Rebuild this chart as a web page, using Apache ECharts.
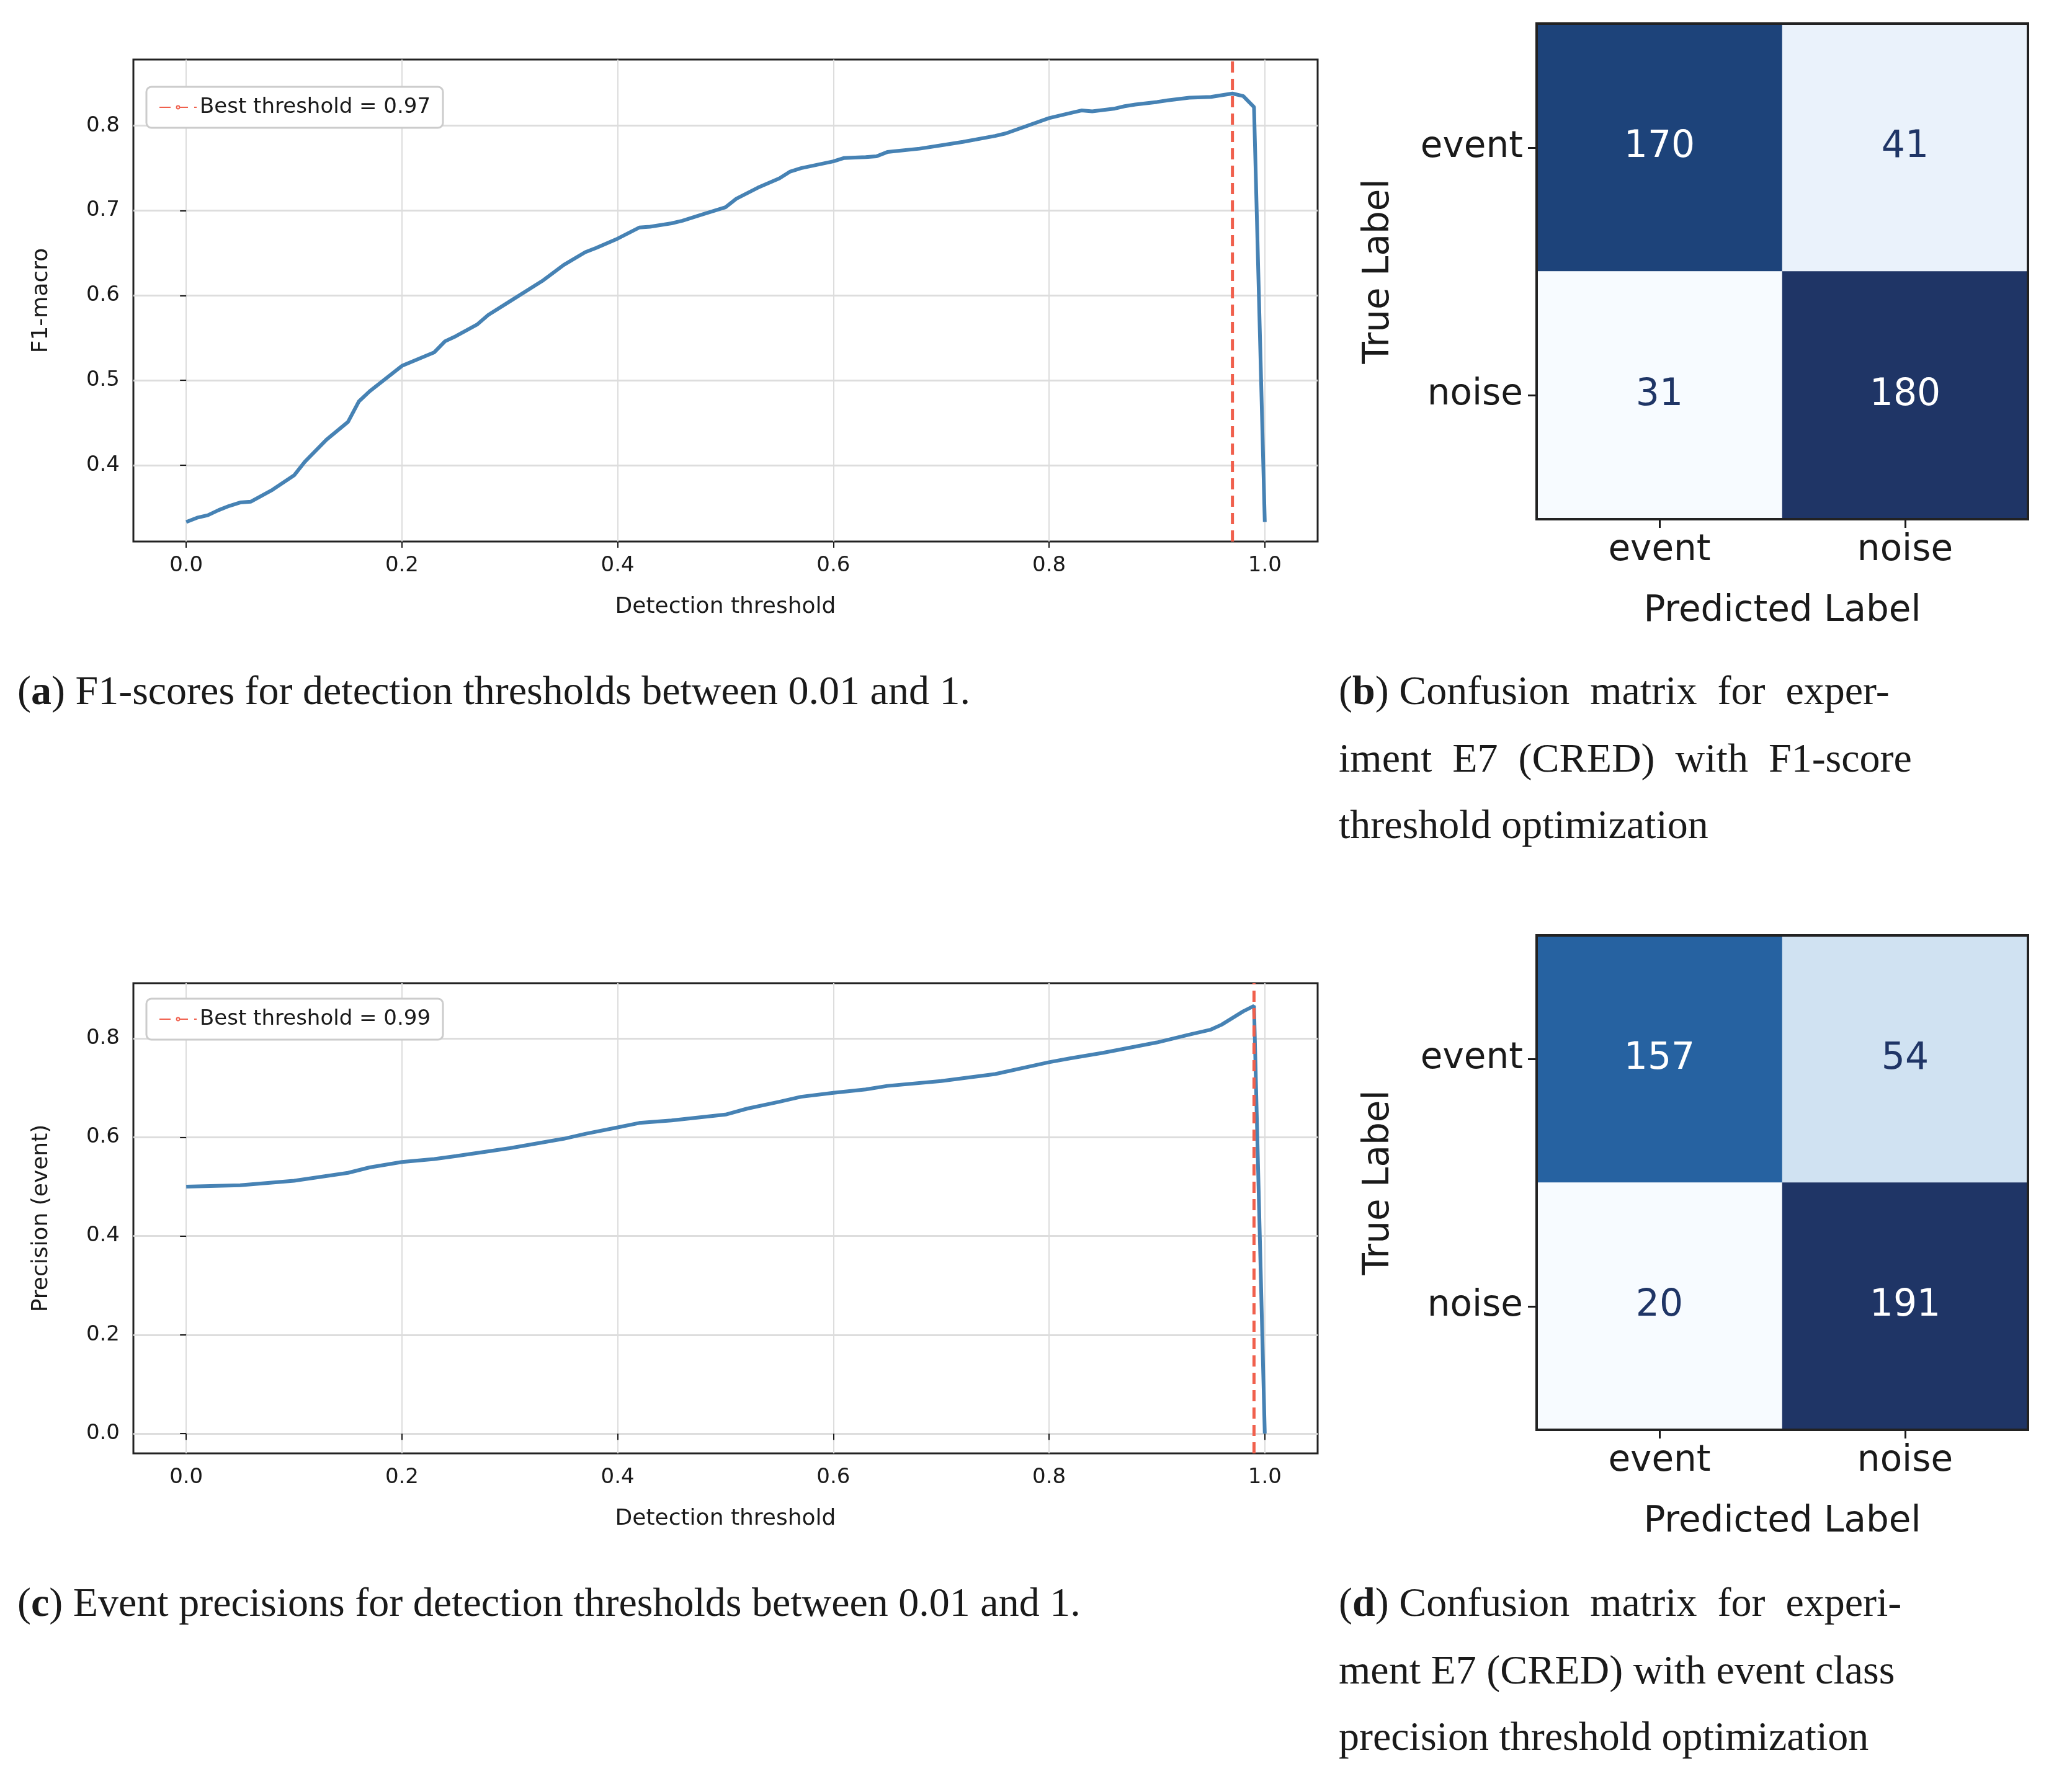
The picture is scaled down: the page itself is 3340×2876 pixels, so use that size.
<!DOCTYPE html>
<html><head><meta charset="utf-8">
<script src="https://cdn.jsdelivr.net/npm/echarts@6/dist/echarts.min.js"></script>
<style>html,body{margin:0;padding:0;background:#fff}#c{width:3340px;height:2876px}</style>
</head><body><div id="c"></div>
<script>
const f1X = [0,0.01,0.02,0.03,0.04,0.05,0.06,0.07,0.08,0.1,0.11,0.12,0.13,0.15,0.16,0.17,0.2,0.23,0.24,0.25,0.27,0.28,0.3,0.33,0.35,0.37,0.38,0.4,0.42,0.43,0.45,0.46,0.48,0.5,0.51,0.53,0.55,0.56,0.57,0.6,0.61,0.63,0.64,0.65,0.68,0.7,0.72,0.75,0.76,0.8,0.82,0.83,0.84,0.86,0.87,0.88,0.9,0.91,0.93,0.95,0.96,0.97,0.98,0.99,1.0];
const f1Y = [0.333,0.338,0.341,0.347,0.352,0.356,0.357,0.364,0.371,0.388,0.404,0.417,0.430,0.451,0.475,0.487,0.517,0.533,0.546,0.552,0.566,0.577,0.593,0.617,0.636,0.651,0.656,0.667,0.680,0.681,0.685,0.688,0.696,0.704,0.714,0.727,0.738,0.746,0.750,0.758,0.762,0.763,0.764,0.769,0.773,0.777,0.781,0.788,0.791,0.809,0.815,0.818,0.817,0.820,0.823,0.825,0.828,0.830,0.833,0.834,0.836,0.838,0.835,0.822,0.333];
const precX = [0,0.05,0.1,0.15,0.17,0.2,0.23,0.25,0.3,0.35,0.37,0.4,0.42,0.45,0.5,0.52,0.55,0.57,0.6,0.63,0.65,0.7,0.75,0.8,0.82,0.85,0.9,0.93,0.95,0.96,0.98,0.99,1.0];
const precY = [0.500,0.503,0.512,0.528,0.539,0.550,0.556,0.562,0.578,0.597,0.607,0.620,0.629,0.634,0.646,0.658,0.672,0.682,0.690,0.697,0.704,0.714,0.728,0.752,0.760,0.771,0.792,0.808,0.818,0.828,0.855,0.866,0.0];
const bestA = 0.97, bestC = 0.99;
const labels = ['event','noise'];
const cmB = [170,41,31,180];
const cmD = [157,54,20,191];
const xTicks = [0,0.2,0.4,0.6,0.8,1.0];
const yTicksA = [0.4,0.5,0.6,0.7,0.8];
const yTicksC = [0,0.2,0.4,0.6,0.8];

const sans = 'DejaVu Sans';
const dark = '#1a1a1a';
const lineCol = '#4682b4', red = '#f0604d';
const blues = ['#f7fbff','#deebf7','#c6dbef','#9ecae1','#6baed6','#4292c6','#2e6fb0','#1b4f8c','#1f3566'];

function zip(a,b){return a.map((v,i)=>[v,b[i]]);}
function cells(v){return [[0,0,v[0]],[1,0,v[1]],[0,1,v[2]],[1,1,v[3]]];}

function xAxisLine(gi){return {type:'value',gridIndex:gi,min:-0.049,max:1.049,
  name:'Detection threshold',nameLocation:'middle',nameGap:88,nameTextStyle:{fontFamily:sans,fontSize:36,color:dark},
  axisLine:{show:false},axisTick:{show:true,customValues:xTicks,length:10,lineStyle:{color:dark,width:2}},
  axisLabel:{customValues:xTicks,formatter:v=>v.toFixed(1),fontFamily:sans,fontSize:34,color:dark,margin:22},
  splitLine:{show:true,lineStyle:{color:'#dddddd',width:2}}};}
function yAxisLine(gi,min,max,ticks,name){return {type:'value',gridIndex:gi,min:min,max:max,
  name:name,nameLocation:'middle',nameGap:130,nameTextStyle:{fontFamily:sans,fontSize:36,color:dark},
  axisLine:{show:false},axisTick:{show:true,customValues:ticks,length:10,lineStyle:{color:dark,width:2}},
  axisLabel:{customValues:ticks,formatter:v=>v.toFixed(1),fontFamily:sans,fontSize:34,color:dark,margin:22},
  splitLine:{show:true,lineStyle:{color:'#dddddd',width:3}}};}
function catX(gi){return {type:'category',gridIndex:gi,data:labels,
  name:'Predicted Label',nameLocation:'middle',nameGap:120,nameTextStyle:{fontFamily:sans,fontSize:58,color:dark},
  axisLine:{show:false},axisTick:{show:true,alignWithLabel:true,length:14,lineStyle:{color:dark,width:3}},
  axisLabel:{fontFamily:sans,fontSize:58,color:dark,margin:22},splitLine:{show:false}};}
function catY(gi){return {type:'category',gridIndex:gi,data:labels,inverse:true,
  name:'True Label',nameLocation:'middle',nameGap:225,nameTextStyle:{fontFamily:sans,fontSize:58,color:dark},
  axisLine:{show:false},axisTick:{show:true,alignWithLabel:true,length:14,lineStyle:{color:dark,width:3}},
  axisLabel:{fontFamily:sans,fontSize:58,color:dark,margin:22},splitLine:{show:false}};}

function heat(xi,data,min,max){return {type:'heatmap',xAxisIndex:xi,yAxisIndex:xi,data:cells(data),
  label:{show:true,fontFamily:sans,fontSize:60,formatter:p=>p.value[2],
    color:'#fff'},
  emphasis:{disabled:true}};}

const option = {
  backgroundColor:'#fff',animation:false,
  grid:[
    {left:215,top:96,width:1909,height:777,show:true,borderColor:'#222',borderWidth:3,backgroundColor:'transparent'},
    {left:215,top:1585,width:1909,height:758,show:true,borderColor:'#222',borderWidth:3,backgroundColor:'transparent'},
    {left:2477,top:38,width:792,height:799,show:true,borderColor:'#222',borderWidth:4,backgroundColor:'transparent',z:5},
    {left:2477,top:1508,width:792,height:797,show:true,borderColor:'#222',borderWidth:4,backgroundColor:'transparent',z:5}
  ],
  xAxis:[xAxisLine(0),xAxisLine(1),catX(2),catX(3)],
  yAxis:[yAxisLine(0,0.31,0.878,yTicksA,'F1-macro'),yAxisLine(1,-0.04,0.912,yTicksC,'Precision (event)'),catY(2),catY(3)],
  visualMap:[
    {type:'continuous',show:false,seriesIndex:4,min:31,max:180,inRange:{color:blues}},
    {type:'continuous',show:false,seriesIndex:5,min:20,max:191,inRange:{color:blues}}
  ],
  legend:[
    {gridIndex:0,left:236,top:140,data:['Best threshold = 0.97'],itemWidth:60,itemHeight:6,itemGap:20,
     textStyle:{fontFamily:sans,fontSize:34,color:dark},borderColor:'#cccccc',borderWidth:3,borderRadius:8,padding:[16,20,16,20],backgroundColor:'#fff'},
    {left:236,top:1610,data:['Best threshold = 0.99'],itemWidth:60,itemHeight:6,
     textStyle:{fontFamily:sans,fontSize:34,color:dark},borderColor:'#cccccc',borderWidth:3,borderRadius:8,padding:[16,20,16,20],backgroundColor:'#fff'}
  ],
  series:[
    {type:'line',xAxisIndex:0,yAxisIndex:0,data:zip(f1X,f1Y),showSymbol:false,lineStyle:{color:lineCol,width:6},z:3},
    {type:'line',name:'Best threshold = 0.97',xAxisIndex:0,yAxisIndex:0,data:[[bestA,0.31],[bestA,0.878]],showSymbol:false,
     itemStyle:{color:red},lineStyle:{color:red,width:5,type:[18,10]},z:4},
    {type:'line',xAxisIndex:1,yAxisIndex:1,data:zip(precX,precY),showSymbol:false,lineStyle:{color:lineCol,width:6},z:3},
    {type:'line',name:'Best threshold = 0.99',xAxisIndex:1,yAxisIndex:1,data:[[bestC,-0.04],[bestC,0.912]],showSymbol:false,
     itemStyle:{color:red},lineStyle:{color:red,width:5,type:[18,10]},z:4},
    heat(2,cmB),
    heat(3,cmD)
  ],
  graphic:[]
};
// label color per cell: light cells get dark text
option.series[4].data = cells(cmB).map(c=>({value:c,label:{color:c[2]>100?'#ffffff':'#1f3566'}}));
option.series[5].data = cells(cmD).map(c=>({value:c,label:{color:c[2]>100?'#ffffff':'#1f3566'}}));

const serif = 'Liberation Serif';
function cap(x,y,letter,text){return {type:'text',left:x,top:y,style:{
  text:'(' + '{b|'+letter+'}' + ') ' + text, rich:{b:{fontFamily:serif,fontSize:66,fontWeight:'bold',fill:dark}},
  fontFamily:serif,fontSize:66,fill:dark}};}
function plain(x,y,t){return {type:'text',left:x,top:y,style:{text:t,fontFamily:serif,fontSize:66,fill:dark}};}
option.graphic = [
  cap(28,1085,'a','F1-scores for detection thresholds between 0.01 and 1.'),
  cap(2158,1085,'b','Confusion  matrix  for  exper-'),
  plain(2158,1194,'iment  E7  (CRED)  with  F1-score'),
  plain(2158,1301,'threshold optimization'),
  cap(28,2555,'c','Event precisions for detection thresholds between 0.01 and 1.'),
  cap(2158,2555,'d','Confusion  matrix  for  experi-'),
  plain(2158,2664,'ment E7 (CRED) with event class'),
  plain(2158,2771,'precision threshold optimization')
];
const chart = echarts.init(document.getElementById('c'),null,{renderer:'canvas'});
chart.setOption(option);
</script></body></html>
